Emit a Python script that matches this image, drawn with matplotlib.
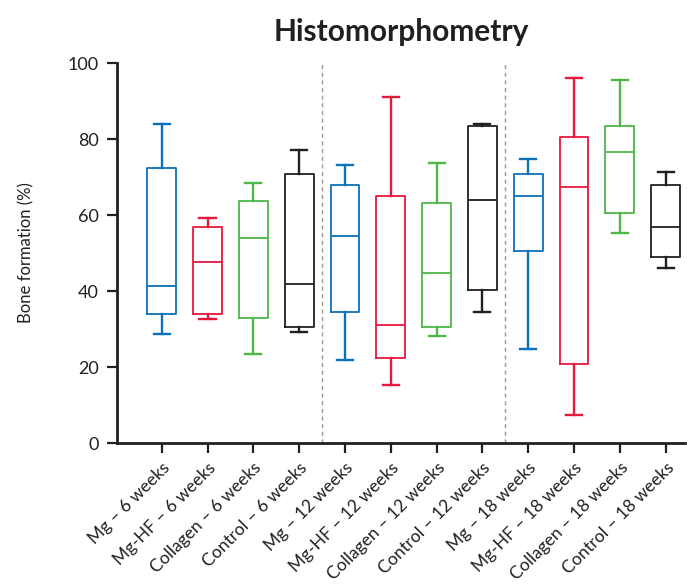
import matplotlib
matplotlib.use("Agg")
import matplotlib.pyplot as plt

plt.rcParams["font.family"] = ["Lato", "DejaVu Sans"]

labels = [
    "Mg – 6 weeks", "Mg-HF – 6 weeks", "Collagen – 6 weeks", "Control – 6 weeks",
    "Mg – 12 weeks", "Mg-HF – 12 weeks", "Collagen – 12 weeks", "Control – 12 weeks",
    "Mg – 18 weeks", "Mg-HF – 18 weeks", "Collagen – 18 weeks", "Control – 18 weeks",
]
whisker_lo = [28.7, 32.7, 23.4, 29.2, 21.8, 15.3, 28.2, 34.5, 24.7, 7.4, 55.3, 46.1]
q1 = [33.9, 33.9, 32.9, 30.5, 34.5, 22.4, 30.4, 40.3, 50.6, 20.7, 60.4, 48.9]
median = [41.3, 47.7, 53.9, 41.8, 54.6, 31.0, 44.8, 63.9, 65.1, 67.4, 76.6, 56.8]
q3 = [72.5, 56.9, 63.8, 70.7, 67.9, 65.0, 63.2, 83.4, 70.8, 80.5, 83.4, 67.8]
whisker_hi = [83.9, 59.2, 68.3, 77.1, 73.2, 91.1, 73.7, 83.9, 74.7, 96.1, 95.5, 71.3]

group_colors = ["#0a72ba", "#e8173c", "#4cb848", "#231f20"]

fig = plt.figure(figsize=(6.87, 5.85), dpi=100)
ax = fig.add_axes([0.170, 0.2427, 0.827, 0.6496])

for i in range(len(labels)):
    c = group_colors[i % 4]
    stats = [{
        "whislo": whisker_lo[i], "q1": q1[i], "med": median[i],
        "q3": q3[i], "whishi": whisker_hi[i], "fliers": [],
    }]
    ax.bxp(stats, positions=[i + 1], widths=0.63, showfliers=False,
           boxprops=dict(color=c, linewidth=1.3),
           medianprops=dict(color=c, linewidth=1.3),
           whiskerprops=dict(color=c, linewidth=1.7),
           capprops=dict(color=c, linewidth=1.7),
           capwidths=0.35, manage_ticks=False)

for xd in [4.5, 8.5]:
    ax.plot([xd, xd], [0, 100], color="#999999", linestyle=(0, (3, 2.5)),
            linewidth=1.0, clip_on=False)

ax.set_xlim(0.02, 12.42)
ax.set_ylim(0, 100)
ax.set_yticks([0, 20, 40, 60, 80, 100])
ax.set_xticks(range(1, 13))
ax.set_xticklabels(labels, rotation=45, ha="right", rotation_mode="anchor",
                   fontsize=12.5)
ax.tick_params(axis="y", labelsize=13, length=7, width=1.6, color="#231f20",
               labelcolor="#231f20", pad=6)
ax.tick_params(axis="x", length=7, width=1.6, color="#231f20",
               labelcolor="#231f20", pad=5)
for s in ["top", "right"]:
    ax.spines[s].set_visible(False)
for s in ["left", "bottom"]:
    ax.spines[s].set_linewidth(2)
    ax.spines[s].set_color("#231f20")

ax.set_ylabel("Bone formation (%)", fontsize=12, labelpad=24, color="#231f20")
ax.set_title("Histomorphometry", fontsize=21.5, fontweight="bold", pad=16,
             color="#231f20")

fig.savefig("out.png", dpi=100)
